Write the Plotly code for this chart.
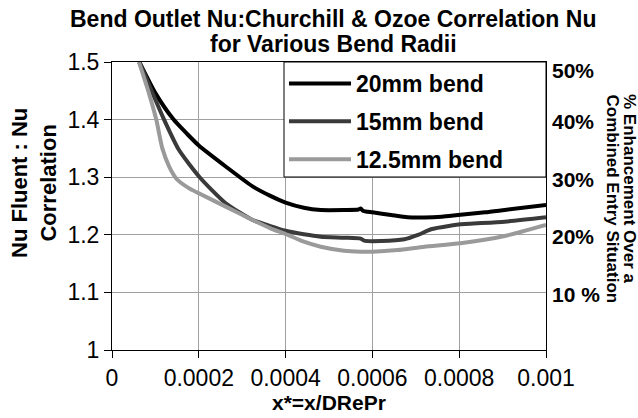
import plotly.graph_objects as go

# ---- data ----
x_20 = [0.000063, 0.0001, 0.000142, 0.000172, 0.0002, 0.000262, 0.000324, 0.000365, 0.0004, 0.000442,
        0.000481, 0.000535, 0.000568, 0.000573, 0.000578, 0.0006, 0.000643, 0.000681, 0.000720,
        0.000760, 0.000803, 0.000860, 0.000905, 0.001]
y_20 = [1.5, 1.446, 1.4, 1.376, 1.355, 1.3186, 1.284, 1.2675, 1.256, 1.2471,
        1.2431, 1.2431, 1.2440, 1.2458, 1.2419, 1.239, 1.2344, 1.2304, 1.2300,
        1.2315, 1.2350, 1.2390, 1.2431, 1.2518]

x_15 = [0.000063, 0.00009, 0.00012, 0.000154, 0.000202, 0.000262, 0.000324, 0.000365, 0.0004, 0.000442,
        0.000481, 0.000535, 0.000573, 0.000581, 0.00062, 0.000674, 0.000705, 0.000735, 0.000782,
        0.000803, 0.000905, 0.001]
y_15 = [1.5, 1.452, 1.4, 1.3476, 1.3, 1.2548, 1.2258, 1.215, 1.207, 1.2009,
        1.1967, 1.195, 1.1933, 1.1898, 1.1892, 1.1922, 1.1997, 1.2096, 1.2160,
        1.2182, 1.2228, 1.2304]

x_125 = [0.000062, 0.000085, 0.000102, 0.000116, 0.000132, 0.00015, 0.000177, 0.0002, 0.000262, 0.000324,
         0.000365, 0.0004, 0.000442, 0.000481, 0.000535, 0.000573, 0.0006, 0.000658, 0.00072,
         0.000803, 0.000905, 0.001]
y_125 = [1.5, 1.446, 1.4, 1.35, 1.318, 1.296, 1.281, 1.272, 1.249, 1.2258,
         1.2113, 1.2014, 1.188, 1.1793, 1.1723, 1.1706, 1.1706, 1.1736, 1.1793,
         1.1852, 1.1979, 1.217]

series_names = ["20mm bend", "15mm bend", "12.5mm bend"]
series_colors = ["#000000", "#3a3a3a", "#9a9a9a"]

x_tick_vals = [0, 0.0002, 0.0004, 0.0006, 0.0008, 0.001]
x_tick_text = ["0", "0.0002", "0.0004", "0.0006", "0.0008", "0.001"]
y_tick_vals = [1, 1.1, 1.2, 1.3, 1.4, 1.5]
y_tick_text = ["1", "1.1", "1.2", "1.3", "1.4", "1.5"]
pct_vals = [50, 40, 30, 20, 10]
pct_text = ["50%", "40%", "30%", "20%", "10 %"]

FONT = "Liberation Sans, Arial, sans-serif"

# plot-area geometry in pixels
L, R, T, B = 112, 546, 62, 350
PW, PH = R - L, B - T


def px(xp):
    return (xp - L) / PW


def py(yp):
    return (B - yp) / PH


fig = go.Figure()
for i, (xs, ys, name, col) in enumerate(zip([x_20, x_15, x_125], [y_20, y_15, y_125],
                                            series_names, series_colors)):
    fig.add_trace(go.Scatter(x=xs, y=ys, mode="lines", name=name, legendgroup="g%d" % i,
                             line=dict(color=col, width=4, shape="spline", smoothing=0.6)))

axis_common = dict(showgrid=True, gridcolor="#a0a0a0", gridwidth=1,
                   showline=True, linecolor="black", linewidth=1, mirror=True,
                   ticks="outside", ticklen=7, tickcolor="black", zeroline=False,
                   tickfont=dict(family=FONT, size=23, color="black"))

fig.update_xaxes(range=[0, 0.001], tickvals=x_tick_vals, ticktext=x_tick_text, **axis_common)
fig.update_yaxes(range=[1, 1.5], tickvals=y_tick_vals, ticktext=y_tick_text, **axis_common)

annotations = []
annotations.append(dict(text="<b>Bend Outlet Nu:Churchill & Ozoe Correlation Nu</b>",
                        xref="paper", yref="paper", x=px(333), y=py(19),
                        showarrow=False, font=dict(family=FONT, size=23, color="black"),
                        xanchor="center", yanchor="middle"))
annotations.append(dict(text="<b>for Various Bend Radii</b>",
                        xref="paper", yref="paper", x=px(333), y=py(44),
                        showarrow=False, font=dict(family=FONT, size=23, color="black"),
                        xanchor="center", yanchor="middle"))
annotations.append(dict(text="<b>Nu Fluent : Nu<br>Correlation</b>", textangle=-90,
                        xref="paper", yref="paper", x=px(34), y=py(183),
                        showarrow=False, font=dict(family=FONT, size=22, color="black"),
                        xanchor="center", yanchor="middle"))
annotations.append(dict(text="<b>x*=x/DRePr</b>",
                        xref="paper", yref="paper", x=px(329), y=py(402),
                        showarrow=False, font=dict(family=FONT, size=21, color="black"),
                        xanchor="center", yanchor="middle"))
for v, t in zip(pct_vals, pct_text):
    annotations.append(dict(text="<b>%s</b>" % t, xref="paper", yref="y",
                            x=1.0, y=1 + v / 100.0, xshift=4, yshift=(-8 if v == 50 else -2),
                            showarrow=False, font=dict(family=FONT, size=21, color="black"),
                            xanchor="left", yanchor="middle"))
annotations.append(dict(text="<b>% Enhancement Over a</b>", textangle=90,
                        xref="paper", yref="paper", x=px(630), y=py(92),
                        showarrow=False, font=dict(family=FONT, size=17, color="black"),
                        xanchor="center", yanchor="top"))
annotations.append(dict(text="<b>Combined Entry Situation</b>", textangle=90,
                        xref="paper", yref="paper", x=px(612), y=py(92),
                        showarrow=False, font=dict(family=FONT, size=17, color="black"),
                        xanchor="center", yanchor="top"))

# legend frame (white box with black border, as in the reference)
shapes = [dict(type="rect", xref="paper", yref="paper", x0=px(284), x1=px(546), y0=py(177), y1=py(62),
               fillcolor="white", line=dict(color="black", width=1), layer="above")]

fig.update_layout(
    width=638, height=418,
    margin=dict(l=L, r=638 - R, t=T, b=418 - B),
    paper_bgcolor="white", plot_bgcolor="white",
    font=dict(family=FONT, color="black"),
    showlegend=True,
    legend=dict(x=px(284), y=1, xanchor="left", yanchor="top",
                bgcolor="rgba(0,0,0,0)", borderwidth=0, tracegroupgap=5,
                font=dict(family=FONT, size=23, color="black", weight="bold"),
                itemwidth=62),
    annotations=annotations,
    shapes=shapes,
)

fig.write_html("out.html", config={"displayModeBar": False},
               post_script="document.body.style.margin='0px';")
